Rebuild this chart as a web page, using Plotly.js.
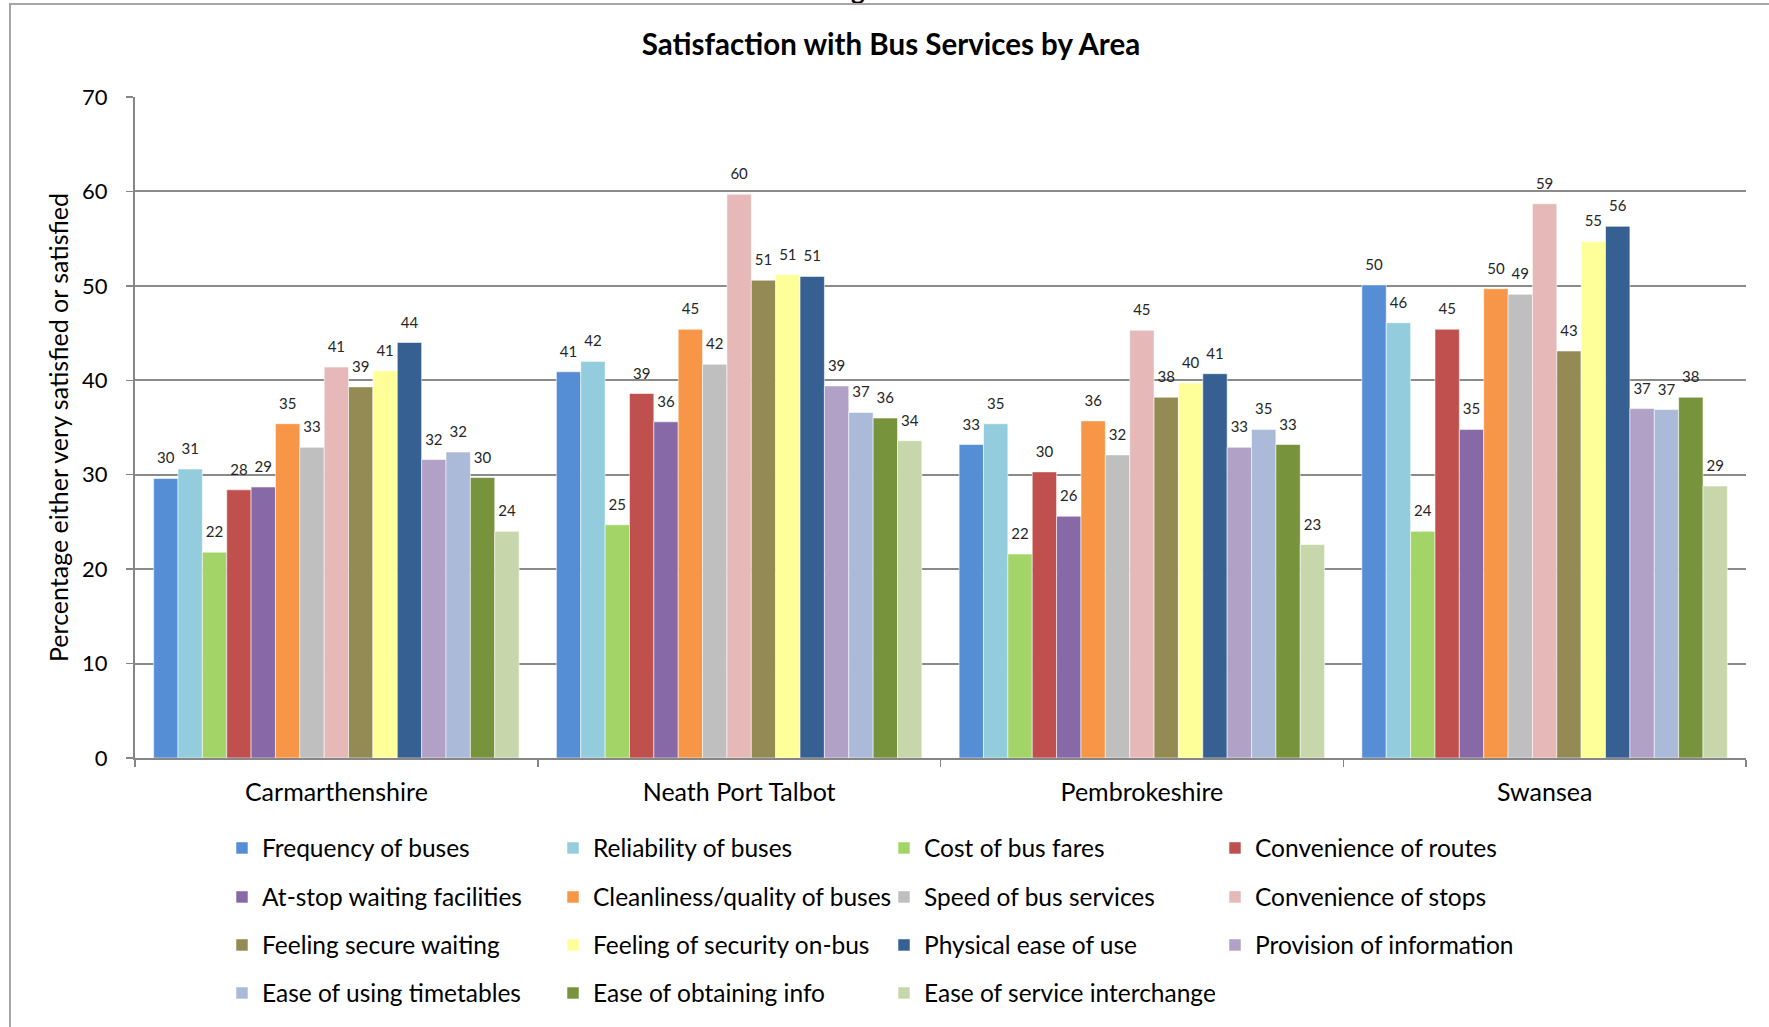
<!DOCTYPE html>
<html>
<head>
<meta charset="utf-8">
<script src="https://cdn.plot.ly/plotly-3.0.1.min.js"></script>
<style>
  html, body { margin: 0; padding: 0; background: #ffffff; overflow: hidden; }
  #chart { width: 1769px; height: 1027px; position: absolute; left: 0; top: 0; }
  #frame { position: absolute; left: 9px; top: 3px; width: 1770px; height: 1030px;
           border-left: 2px solid #a6a6a6; border-top: 2px solid #a6a6a6; pointer-events: none; }
  #cut { position: absolute; left: 851px; top: -23px; font-family: Lato, sans-serif; font-weight: bold;
         font-size: 26px; line-height: 26px; color: #000; pointer-events: none; }
</style>
</head>
<body>
<div id="chart"></div>
<div id="cut">g</div>
<div id="frame"></div>
<script>
// ---- data ----
const areas = ['Carmarthenshire', 'Neath Port Talbot', 'Pembrokeshire', 'Swansea'];

const measures = [
  'Frequency of buses', 'Reliability of buses', 'Cost of bus fares', 'Convenience of routes',
  'At-stop waiting facilities', 'Cleanliness/quality of buses', 'Speed of bus services', 'Convenience of stops',
  'Feeling secure waiting', 'Feeling of security on-bus', 'Physical ease of use', 'Provision of information',
  'Ease of using timetables', 'Ease of obtaining info', 'Ease of service interchange'
];

const colors = [
  '#558ED5', '#93CDDD', '#A2D468', '#C0504D',
  '#8669A6', '#F79646', '#BFBFBF', '#E6B9B8',
  '#948A54', '#FFFF99', '#366092', '#B2A1C7',
  '#ABBAD8', '#77933C', '#C8D6AB'
];

// values per area, in the order of `measures`
const carmarthenshire = [29.6, 30.6, 21.8, 28.4, 28.7, 35.4, 32.9, 41.4, 39.3, 41.0, 44.0, 31.6, 32.4, 29.7, 24.0];
const neathPortTalbot = [40.9, 42.0, 24.7, 38.6, 35.6, 45.4, 41.7, 59.7, 50.6, 51.2, 51.0, 39.4, 36.6, 36.0, 33.6];
const pembrokeshire   = [33.2, 35.4, 21.6, 30.3, 25.6, 35.7, 32.1, 45.3, 38.2, 39.7, 40.7, 32.9, 34.8, 33.2, 22.6];
const swansea         = [50.1, 46.1, 24.0, 45.4, 34.8, 49.7, 49.1, 58.7, 43.1, 54.7, 56.3, 37.0, 36.9, 38.2, 28.8];

const byArea = [carmarthenshire, neathPortTalbot, pembrokeshire, swansea];

// ---- chart ----
const FONT = 'Lato, "Open Sans", sans-serif';
const legendNames = ['legend', 'legend2', 'legend3', 'legend4'];
// invisible wide spacers lift the value labels a little further above the bars (Excel-style gap)
const SP = '<span style="font-size:57px">\u00A0</span>';

const traces = measures.map((name, i) => ({
  type: 'bar',
  name: name,
  x: areas,
  y: byArea.map(a => a[i]),
  marker: { color: colors[i], line: { color: 'rgba(255,255,255,0.55)', width: 1 } },
  texttemplate: SP + '%{y:.0f}' + SP,
  textposition: 'outside',
  constraintext: 'none',
  cliponaxis: false,
  textfont: { family: FONT, size: 15, color: '#262626' },
  legend: legendNames[Math.floor(i / 4)],
  hoverinfo: 'x+y+name'
}));

const W = 1769, H = 1027;
const rowY = [848, 897, 945, 993];
function legendRow(k) {
  return {
    orientation: 'h',
    xref: 'container', yref: 'container',
    x: 222 / W, xanchor: 'left',
    y: 1 - rowY[k] / H, yanchor: 'middle',
    entrywidth: 286, entrywidthmode: 'pixels',
    font: { family: FONT, size: 24.5, color: '#000' },
    bgcolor: 'rgba(0,0,0,0)', borderwidth: 0,
    traceorder: 'normal'
  };
}

const layout = {
  width: W, height: H,
  margin: { l: 135, r: 23, t: 97, b: 269, pad: 0 },
  paper_bgcolor: '#ffffff', plot_bgcolor: '#ffffff',
  font: { family: FONT, color: '#000' },
  title: {
    text: 'Satisfaction with Bus Services by Area',
    font: { family: FONT, size: 29.5, color: '#000', weight: 'bold' },
    x: 891 / W, xanchor: 'center', xref: 'container',
    y: 1 - 45 / H, yanchor: 'middle', yref: 'container'
  },
  barmode: 'group',
  bargap: 0.0925,
  bargroupgap: 0,
  xaxis: {
    type: 'category',
    tickson: 'boundaries',
    ticks: 'outside', ticklen: 7, tickwidth: 1.5, tickcolor: '#868686',
    showline: true, linecolor: '#868686', linewidth: 2,
    showgrid: false,
    tickfont: { family: FONT, size: 25, color: '#000' },
    ticklabelstandoff: 11,
    fixedrange: true
  },
  yaxis: {
    range: [0, 70], dtick: 10,
    ticks: 'outside', ticklen: 7, tickwidth: 1.5, tickcolor: '#868686',
    showline: true, linecolor: '#868686', linewidth: 2,
    showgrid: true, gridcolor: '#8a8a8a', gridwidth: 2,
    zeroline: false,
    tickfont: { family: FONT, size: 22, color: '#000' },
    ticklabelstandoff: 14,
    title: { text: 'Percentage either very satisfied or satisfied',
             font: { family: FONT, size: 25, color: '#000' }, standoff: 6 },
    fixedrange: true
  },
  showlegend: true,
  legend: legendRow(0),
  legend2: legendRow(1),
  legend3: legendRow(2),
  legend4: legendRow(3)
};

Plotly.newPlot('chart', traces, layout, { displayModeBar: false, staticPlot: true });
</script>
</body>
</html>
